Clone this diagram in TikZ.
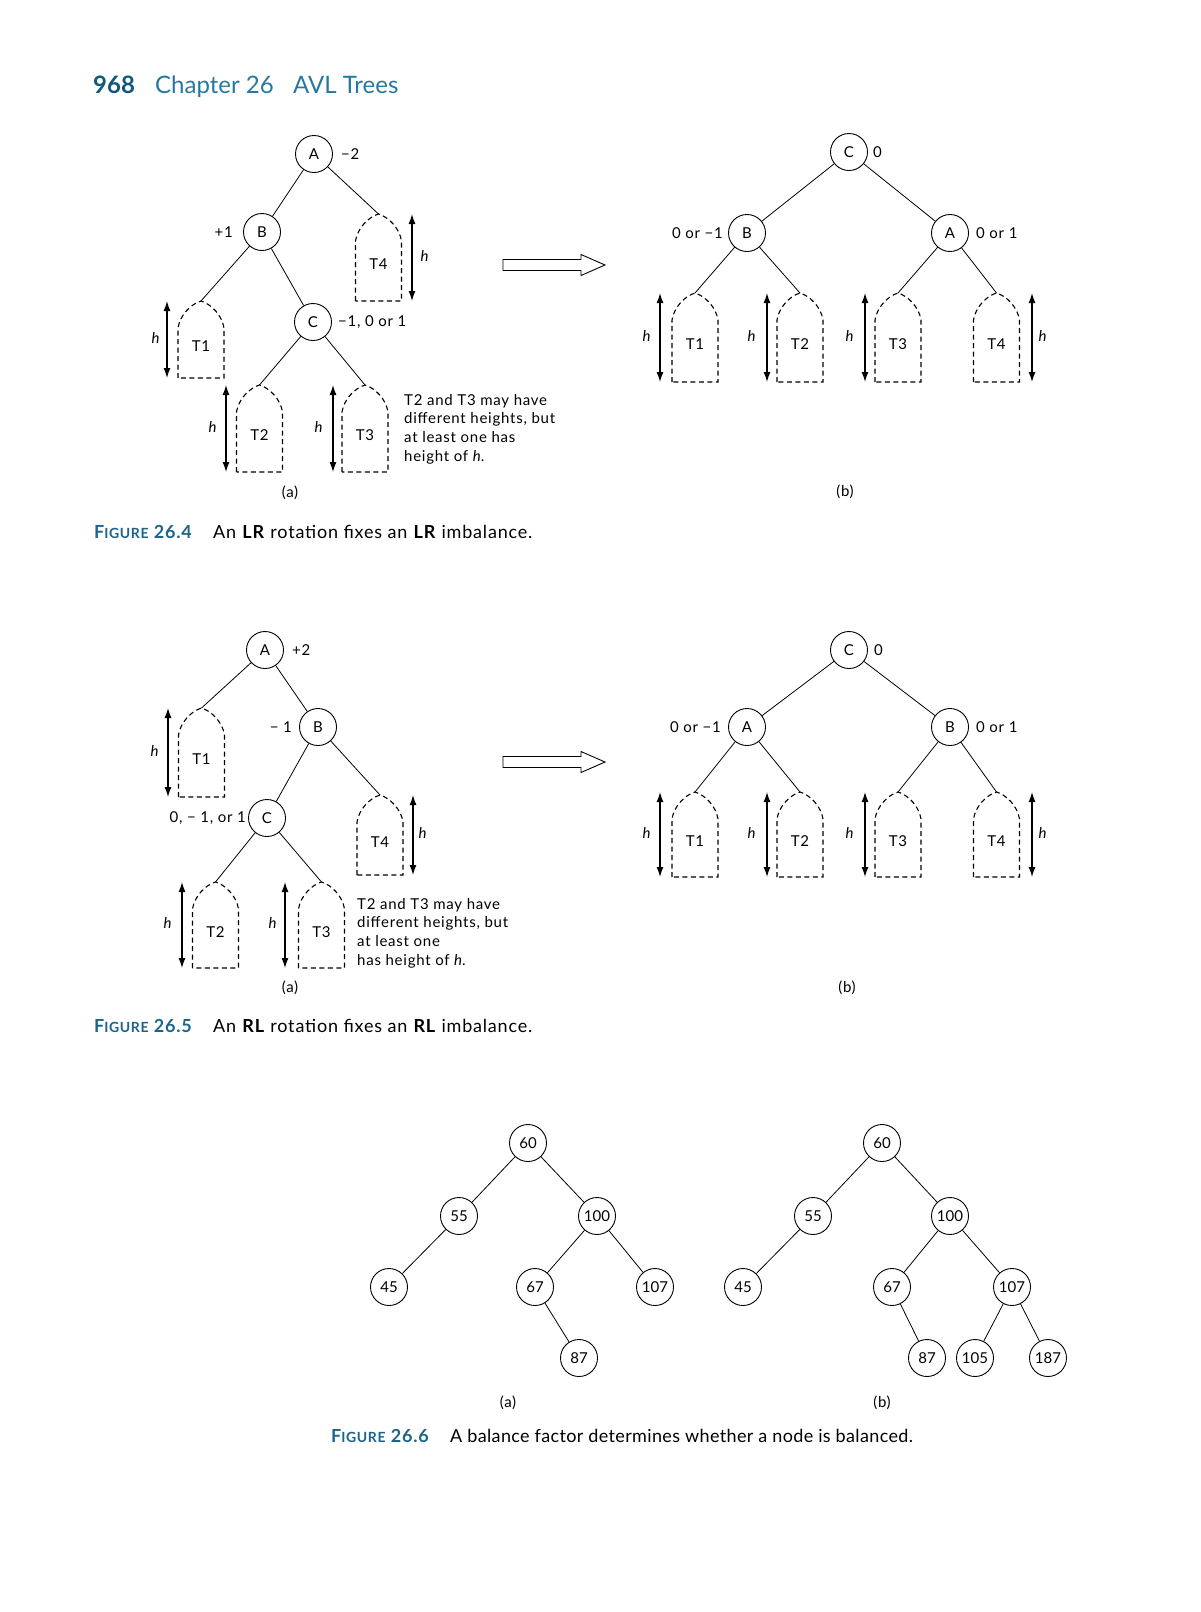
\documentclass[tikz,border=0pt]{standalone}
\usepackage{fontspec}
\setmainfont{Lato}
\newfontfamily\spacedface[LetterSpace=5]{Lato}
\newfontfamily\capface[LetterSpace=4.5]{Lato}
\newfontfamily\tightcapface[LetterSpace=2]{Lato}
\usetikzlibrary{arrows.meta,positioning}
\definecolor{pagenum}{RGB}{18,88,120}
\definecolor{headblue}{RGB}{38,120,160}
\definecolor{figblue}{RGB}{28,100,138}
\newcommand{\nodefont}{\fontsize{15}{17}\selectfont}
\newcommand{\notefont}{\spacedface\fontsize{15}{18.7}\selectfont}
\newcommand{\capfont}{\capface\fontsize{18}{22}\selectfont}
\newcommand{\tightcapfont}{\tightcapface\fontsize{18}{22}\selectfont}
\newcommand{\headfont}{\fontsize{24}{28}\selectfont}
\newcommand{\figlabel}[1]{{\bfseries F{\fontsize{14}{16}\selectfont IGURE} #1}}
\tikzset{
  vert/.style={draw, circle, line width=0.9pt, minimum size=37pt, inner sep=0pt, font=\nodefont},
  bal/.style={inner sep=0pt, font=\notefont},
  edge/.style={line width=0.8pt},
  stub/.style={dash pattern=on 5pt off 3.5pt, line width=1.1pt},
  hbar/.style={{Latex[length=10pt,width=7pt]}-{Latex[length=10pt,width=7pt]}, line width=1.3pt},
  sub/.style={inner sep=0pt, font=\notefont},
  note/.style={align=left, anchor=north west, inner sep=0pt, font=\notefont},
  fatarrow/.style={line width=0.9pt}
}
% dashed subtree with its height arrow: name, centre x, top, bottom, label, arrow x, h x
\newcommand{\treestub}[7]{%
  \coordinate (#1) at (#2,#3);
  \draw[stub] (#2-23,#4) -- (#2-23,#3+27)
    .. controls (#2-21,#3+14) and (#2-10,#3+3) .. (#1)
    .. controls (#2+10,#3+3) and (#2+21,#3+14) .. (#2+23,#3+27)
    -- (#2+23,#4) -- cycle;
  \node[sub] (#1-lab) at (#2,{(#3+#4)/2+7}) {#5};
  \coordinate (#1-ht) at (#6,#3);
  \coordinate (#1-hb) at (#6,#4);
  \draw[hbar] (#1-ht) -- (#1-hb);
  \node[sub] (#1-h) at (#7,{(#3+#4)/2-2}) {\textit{h}};
}
% hollow arrow between (a) and (b): name, tip y
\newcommand{\rotarrow}[2]{%
  \coordinate (#1) at (503,#2);
  \draw[fatarrow] (#1) ++(0,-5.5) -- ++(78,0) -- ++(0,-5) -- ++(24,10.5)
    -- ++(-24,10.5) -- ++(0,-5) -- ++(-78,0) -- cycle;
}

\begin{document}
\begin{tikzpicture}[x=1pt, y=-1pt]
  \useasboundingbox (0,0) rectangle (1200,1612);

  % running head
  \node[anchor=base west, inner sep=0pt, font=\headfont\bfseries, text=pagenum] (pnum) at (93,93) {968};
  \node[anchor=base west, inner sep=0pt, font=\headfont, text=headblue] (chap) at (155,93) {Chapter 26};
  \node[anchor=base west, inner sep=0pt, font=\headfont, text=headblue] (title) at (293,93) {AVL Trees};

  % Figure 26.4 (a)
  \node[vert] (a4A) at (314,154) {A};
  \node[vert] (a4B) at (262,232) {B};
  \node[vert] (a4C) at (313,322) {C};
  \node[bal, right=8pt of a4A] (a4Abal) {−2};
  \node[bal, left=10pt of a4B] (a4Bbal) {+1};
  \node[bal, right=6pt of a4C] (a4Cbal) {−1, 0 or 1};
  \treestub{a4T1}{201}{301}{378}{T1}{167}{156}
  \treestub{a4T4}{378.5}{214}{301}{T4}{412}{425}
  \treestub{a4T2}{259.5}{385}{472}{T2}{226}{213}
  \treestub{a4T3}{365}{385}{472}{T3}{333}{319}
  \draw[edge] (a4A) -- (a4B);
  \draw[edge] (a4A) -- (a4T4);
  \draw[edge] (a4B) -- (a4T1);
  \draw[edge] (a4B) -- (a4C);
  \draw[edge] (a4C) -- (a4T2);
  \draw[edge] (a4C) -- (a4T3);
  \node[note] (a4note) at (404,394) {T2 and T3 may have\\different heights, but\\at least one has\\height of \textit{h}.};
  \node[sub] (a4cap) at (290,493) {(a)};

  \rotarrow{arr4}{265}

  % Figure 26.4 (b)
  \node[vert] (b4C) at (849,152) {C};
  \node[vert] (b4B) at (747,233) {B};
  \node[vert] (b4A) at (950,233) {A};
  \node[bal, right=5pt of b4C] (b4Cbal) {0};
  \node[bal, left=5pt of b4B] (b4Bbal) {0 or −1};
  \node[bal, right=7pt of b4A] (b4Abal) {0 or 1};
  \treestub{b4T1}{695}{293}{382}{T1}{660}{647}
  \treestub{b4T2}{800}{293}{382}{T2}{767}{752}
  \treestub{b4T3}{898}{293}{382}{T3}{865}{850}
  \treestub{b4T4}{996.5}{293}{382}{T4}{1032}{1043}
  \draw[edge] (b4C) -- (b4B);
  \draw[edge] (b4C) -- (b4A);
  \draw[edge] (b4B) -- (b4T1);
  \draw[edge] (b4B) -- (b4T2);
  \draw[edge] (b4A) -- (b4T3);
  \draw[edge] (b4A) -- (b4T4);
  \node[sub] (b4cap) at (845,492) {(b)};

  \node[anchor=base west, inner sep=0pt, font=\capfont, text=figblue] (fig4) at (94,538) {\figlabel{26.4}};
  \node[anchor=base west, inner sep=0pt, font=\capfont] (fig4txt) at (213,538) {An \textbf{LR} rotation fixes an \textbf{LR} imbalance.};

  % Figure 26.5 (a)
  \node[vert] (a5A) at (265,650) {A};
  \node[vert] (a5B) at (318,727) {B};
  \node[vert] (a5C) at (267,818) {C};
  \node[bal, right=8pt of a5A] (a5Abal) {+2};
  \node[bal, left=7pt of a5B] (a5Bbal) {− 1};
  \node[bal, left=2pt of a5C] (a5Cbal) {0, − 1, or 1};
  \treestub{a5T1}{201.5}{708}{797}{T1}{168}{155}
  \treestub{a5T4}{380}{795}{875}{T4}{413}{423}
  \treestub{a5T2}{215.5}{882}{968}{T2}{182}{168}
  \treestub{a5T3}{321.5}{882}{968}{T3}{285}{273}
  \draw[edge] (a5A) -- (a5T1);
  \draw[edge] (a5A) -- (a5B);
  \draw[edge] (a5B) -- (a5C);
  \draw[edge] (a5B) -- (a5T4);
  \draw[edge] (a5C) -- (a5T2);
  \draw[edge] (a5C) -- (a5T3);
  \node[note] (a5note) at (357,898) {T2 and T3 may have\\different heights, but\\at least one\\has height of \textit{h}.};
  \node[sub] (a5cap) at (290,988) {(a)};

  \rotarrow{arr5}{762}

  % Figure 26.5 (b)
  \node[vert] (b5C) at (849,650) {C};
  \node[vert] (b5A) at (747,727) {A};
  \node[vert] (b5B) at (950,727) {B};
  \node[bal, right=6pt of b5C] (b5Cbal) {0};
  \node[bal, left=7pt of b5A] (b5Abal) {0 or −1};
  \node[bal, right=7pt of b5B] (b5Bbal) {0 or 1};
  \treestub{b5T1}{695}{792}{877}{T1}{660}{647}
  \treestub{b5T2}{800}{792}{877}{T2}{767}{752}
  \treestub{b5T3}{898}{792}{877}{T3}{865}{850}
  \treestub{b5T4}{996.5}{792}{877}{T4}{1032}{1043}
  \draw[edge] (b5C) -- (b5A);
  \draw[edge] (b5C) -- (b5B);
  \draw[edge] (b5A) -- (b5T1);
  \draw[edge] (b5A) -- (b5T2);
  \draw[edge] (b5B) -- (b5T3);
  \draw[edge] (b5B) -- (b5T4);
  \node[sub] (b5cap) at (847,988) {(b)};

  \node[anchor=base west, inner sep=0pt, font=\capfont, text=figblue] (fig5) at (94,1032) {\figlabel{26.5}};
  \node[anchor=base west, inner sep=0pt, font=\capfont] (fig5txt) at (213,1032) {An \textbf{RL} rotation fixes an \textbf{RL} imbalance.};

  % Figure 26.6 (a)
  \node[vert] (a6n60) at (528,1143) {60};
  \node[vert] (a6n55) at (459,1216) {55};
  \node[vert] (a6n100) at (597,1216) {100};
  \node[vert] (a6n45) at (389,1287) {45};
  \node[vert] (a6n67) at (535,1287) {67};
  \node[vert] (a6n107) at (655,1287) {107};
  \node[vert] (a6n87) at (579,1358) {87};
  \draw[edge] (a6n60) -- (a6n55);
  \draw[edge] (a6n60) -- (a6n100);
  \draw[edge] (a6n55) -- (a6n45);
  \draw[edge] (a6n100) -- (a6n67);
  \draw[edge] (a6n100) -- (a6n107);
  \draw[edge] (a6n67) -- (a6n87);
  \node[sub] (a6cap) at (508,1403) {(a)};

  % Figure 26.6 (b)
  \node[vert] (b6n60) at (882,1143) {60};
  \node[vert] (b6n55) at (813,1216) {55};
  \node[vert] (b6n100) at (950,1216) {100};
  \node[vert] (b6n45) at (743,1287) {45};
  \node[vert] (b6n67) at (892,1287) {67};
  \node[vert] (b6n107) at (1012,1287) {107};
  \node[vert] (b6n87) at (927,1358) {87};
  \node[vert] (b6n105) at (975,1358) {105};
  \node[vert] (b6n187) at (1048,1358) {187};
  \draw[edge] (b6n60) -- (b6n55);
  \draw[edge] (b6n60) -- (b6n100);
  \draw[edge] (b6n55) -- (b6n45);
  \draw[edge] (b6n100) -- (b6n67);
  \draw[edge] (b6n100) -- (b6n107);
  \draw[edge] (b6n67) -- (b6n87);
  \draw[edge] (b6n107) -- (b6n105);
  \draw[edge] (b6n107) -- (b6n187);
  \node[sub] (b6cap) at (882,1403) {(b)};

  \node[anchor=base west, inner sep=0pt, font=\capfont, text=figblue] (fig6) at (331,1442) {\figlabel{26.6}};
  \node[anchor=base west, inner sep=0pt, font=\tightcapfont] (fig6txt) at (450,1442) {A balance factor determines whether a node is balanced.};
\end{tikzpicture}
\end{document}
